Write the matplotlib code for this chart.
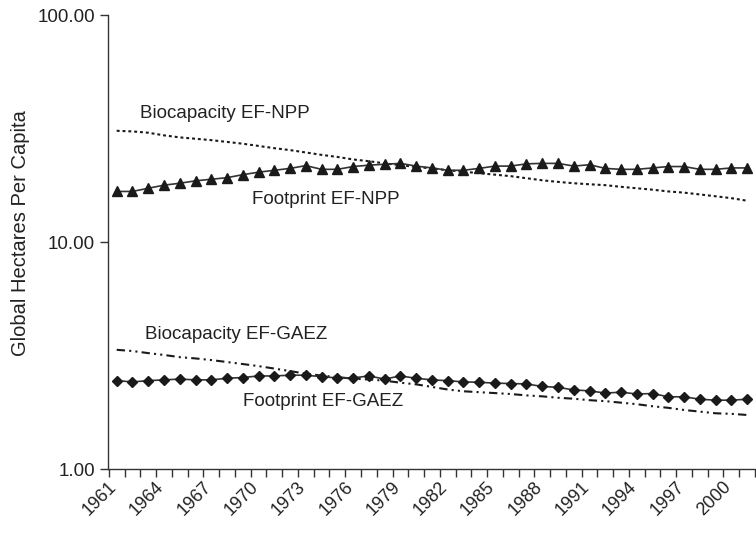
import numpy as np
import matplotlib
matplotlib.use('Agg')
import matplotlib.pyplot as plt

plt.rcParams['font.family'] = ['Liberation Sans', 'DejaVu Sans']

# ---- data ----
years = list(range(1961, 2002))

biocap_npp = [30.9, 30.7, 30.3, 29.5, 28.9, 28.5, 28.1, 27.6, 27.1, 26.5,
              25.9, 25.4, 24.8, 24.2, 23.7, 23.1, 22.7, 22.2, 21.8, 21.4,
              21.1, 20.7, 20.4, 20.1, 19.8, 19.5, 19.1, 18.7, 18.4, 18.15,
              17.96, 17.8, 17.5, 17.25, 17.0, 16.7, 16.5, 16.2, 15.9, 15.6, 15.2]

footprint_npp = [16.7, 16.7, 17.25, 17.8, 18.15, 18.6, 18.9, 19.2, 19.8, 20.3,
                 20.7, 21.1, 21.7, 20.9, 20.9, 21.5, 21.8, 22.0, 22.2, 21.6,
                 21.2, 20.7, 20.7, 21.1, 21.6, 21.6, 22.1, 22.2, 22.2, 21.6,
                 21.9, 21.1, 20.9, 20.9, 21.2, 21.5, 21.5, 20.9, 20.9, 21.2, 21.2]

biocap_gaez = [3.35, 3.31, 3.24, 3.18, 3.11, 3.07, 3.02, 2.96, 2.90, 2.84,
               2.77, 2.70, 2.63, 2.58, 2.54, 2.50, 2.48, 2.45, 2.40, 2.36,
               2.30, 2.24, 2.20, 2.18, 2.16, 2.14, 2.11, 2.09, 2.06, 2.04,
               2.01, 1.99, 1.96, 1.93, 1.89, 1.86, 1.82, 1.79, 1.76, 1.75, 1.73]

footprint_gaez = [2.45, 2.42, 2.45, 2.47, 2.49, 2.47, 2.47, 2.51, 2.53, 2.57,
                  2.57, 2.59, 2.59, 2.55, 2.52, 2.52, 2.57, 2.49, 2.57, 2.51,
                  2.47, 2.45, 2.42, 2.41, 2.39, 2.38, 2.37, 2.31, 2.29, 2.23,
                  2.21, 2.16, 2.18, 2.14, 2.15, 2.08, 2.08, 2.03, 2.01, 2.01, 2.03]

label_years = years[::3]

# ---- figure ----
fig = plt.figure(figsize=(7.56, 5.34), dpi=100)
ax = fig.add_axes([0.1429, 0.1217, 0.8558, 0.8502])

x = np.arange(len(years))
ink = '#1a1a1a'

ax.plot(x, biocap_npp, color=ink, lw=1.5, linestyle=(0, (1.4, 1.4)))
ax.plot(x, footprint_npp, color='#333333', lw=1.2, marker='^', markersize=7,
        markerfacecolor=ink, markeredgecolor=ink)
ax.plot(x, biocap_gaez, color=ink, lw=1.5, linestyle=(0, (4, 2, 1, 2, 1, 2)))
ax.plot(x, footprint_gaez, color='#333333', lw=1.2, marker='D', markersize=5,
        markerfacecolor=ink, markeredgecolor=ink)

# labels on the lines
txt = dict(fontsize=13.5, color='#222222', va='center', ha='left')
ax.text(1.45, 36.9, 'Biocapacity EF-NPP', **txt)
ax.text(8.6, 15.4, 'Footprint EF-NPP', **txt)
ax.text(1.8, 3.93, 'Biocapacity EF-GAEZ', **txt)
ax.text(8.0, 1.99, 'Footprint EF-GAEZ', **txt)

# axes
ax.set_yscale('log')
ax.set_ylim(1, 100)
ax.set_xlim(-0.5, len(years) - 0.5)
ax.yaxis.set_major_locator(matplotlib.ticker.FixedLocator([1, 10, 100]))
ax.yaxis.set_major_formatter(matplotlib.ticker.FormatStrFormatter('%.2f'))
ax.yaxis.set_minor_locator(matplotlib.ticker.NullLocator())

# tick marks between categories, labels every third year
ax.set_xticks(np.arange(-0.5, len(years), 1))
ax.set_xticklabels([])
ax.set_xticks(np.arange(0, len(years), 3) - 0.55, minor=True)
ax.set_xticklabels([str(y) for y in label_years], minor=True,
                   rotation=45, ha='right', va='top', rotation_mode='anchor')

ax.tick_params(axis='x', which='major', length=6, width=1, color='#333333')
ax.tick_params(axis='x', which='minor', length=0, pad=7, labelsize=13,
               labelcolor='#222222')
ax.tick_params(axis='y', length=6, width=1, color='#333333', labelsize=13.5,
               labelcolor='#222222')

ax.set_ylabel('Global Hectares Per Capita', fontsize=14.5, color='#222222')
ax.yaxis.set_label_coords(-0.12, 0.52)

for s in ['top', 'right']:
    ax.spines[s].set_visible(False)
for s in ['left', 'bottom']:
    ax.spines[s].set_color('#333333')
    ax.spines[s].set_linewidth(1)

fig.savefig('out.png', dpi=100, facecolor='white')
